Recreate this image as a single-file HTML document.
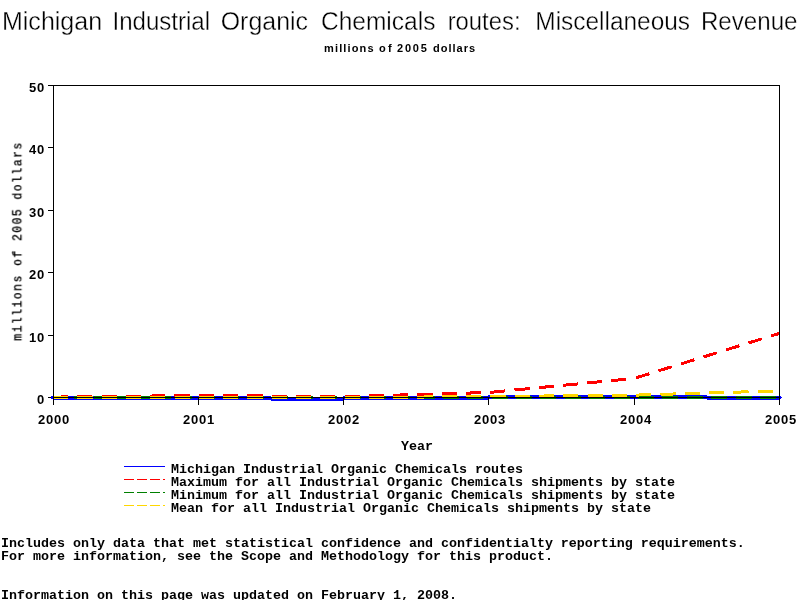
<!DOCTYPE html>
<html>
<head>
<meta charset="utf-8">
<title>Michigan Industrial Organic Chemicals routes: Miscellaneous Revenue</title>
<style>
html,body{margin:0;padding:0;background:#fff;}
body{width:800px;height:600px;overflow:hidden;position:relative;font-family:"Liberation Sans",sans-serif;color:#000;}
#chart{position:absolute;left:0;top:0;width:800px;height:600px;will-change:transform;}
.t{position:absolute;white-space:pre;line-height:1;will-change:transform;}
.sub{font-weight:bold;font-size:11px;letter-spacing:0.75px;}
.mono{font-family:"Liberation Mono",monospace;font-weight:bold;font-size:13.33px;}
.tick{font-family:"Liberation Sans",sans-serif;font-weight:bold;font-size:13px;letter-spacing:0.8px;}
</style>
</head>
<body>
<svg id="chart" width="800" height="600" viewBox="0 0 800 600">
  <!-- title -->
  <g id="title" font-family="Liberation Sans, sans-serif" font-size="25.8" fill="#000" stroke="#fff" stroke-width="0.35">
    <text transform="translate(1.96,29.5) scale(0.9709,1)">Michigan</text>
    <text transform="translate(112.46,29.5) scale(0.9334,1)">Industrial</text>
    <text transform="translate(220.74,29.5) scale(0.9661,1)">Organic</text>
    <text transform="translate(320.96,29.5) scale(0.9509,1)">Chemicals</text>
    <text transform="translate(447.63,29.5) scale(0.9251,1)">routes:</text>
    <text transform="translate(535.31,29.5) scale(0.9470,1)">Miscellaneous</text>
    <text transform="translate(700.93,29.5) scale(0.9360,1)">Revenue</text>
  </g>
  <!-- data lines -->
  <g id="blue" fill="#0000ff" shape-rendering="crispEdges">
    <rect x="51" y="396" width="2" height="3"/>
    <rect x="53" y="396" width="218" height="4"/>
    <rect x="271" y="397" width="72" height="4"/>
    <rect x="343" y="396" width="145" height="4"/>
    <rect x="488" y="395" width="219" height="4"/>
    <rect x="707" y="396" width="73" height="4"/>
    <rect x="780" y="396" width="1" height="3"/>
    <rect x="781" y="397" width="1" height="1"/>
  </g>
  <g fill="none" stroke-width="3" shape-rendering="crispEdges">
    <polyline id="green" stroke="#008000" stroke-dasharray="14.5 6.24" points="53,397.5 198.2,397.5"/>
    <polyline id="green2" stroke="#008000" stroke-dasharray="16 8.39" points="199.0,397.5 779,397.5"/>
    <polyline id="red" stroke="#ff0000" stroke-dasharray="15.2 9.1" points="53.0,397.1 198.2,395.5 343.4,396.6 488.6,392.5 633.8,378.5"/>
    <polyline id="red2" stroke="#ff0000" stroke-dasharray="13.87 9.69" stroke-dashoffset="-2.4" points="633.8,378.5 779,333.5"/>
    <polyline id="yellow" stroke="#ffd700" stroke-dasharray="15.2 9.1" points="53.0,397.5 198.2,397.5 343.4,397.6 488.6,396.53 633.8,395.17 779,390.87"/>
  </g>
  <!-- axes -->
  <g fill="none" stroke="#000" stroke-width="1" shape-rendering="crispEdges">
    <rect x="53.5" y="85.5" width="726" height="312"/>
    <!-- y ticks -->
    <path d="M48,85.5H54 M48,147.5H54 M48,210.5H54 M48,272.5H54 M48,335.5H54 M48,397.5H51"/>
    <!-- x ticks -->
    <path d="M53.5,397V405 M198.5,397V405 M343.5,397V405 M488.5,397V405 M634.5,397V405 M779.5,397V405"/>
  </g>
  <!-- legend samples -->
  <g fill="none" stroke-width="1" shape-rendering="crispEdges">
    <path stroke="#0000ff" d="M124,466.5H165"/>
    <path stroke="#ff0000" stroke-dasharray="10 3" d="M124,479.5H165"/>
    <path stroke="#008000" stroke-dasharray="10 3" d="M124,492.5H165"/>
    <path stroke="#ffd700" stroke-dasharray="10 3" d="M124,505.5H165"/>
  </g>
</svg>

<div class="t sub" id="sub1" style="letter-spacing:1.15px;left:324.3px;top:43px;">millions</div>
<div class="t sub" id="sub2" style="letter-spacing:2.2px;left:378.5px;top:43px;">of</div>
<div class="t sub" id="sub3" style="letter-spacing:1.8px;left:396.6px;top:43px;">2005</div>
<div class="t sub" id="sub4" style="letter-spacing:1.0px;left:432.8px;top:43px;">dollars</div>

<div class="t tick" id="y50" style="left:29px;top:81px;">50</div>
<div class="t tick" id="y40" style="left:29px;top:143px;">40</div>
<div class="t tick" id="y30" style="left:29px;top:206px;">30</div>
<div class="t tick" id="y20" style="left:29px;top:268px;">20</div>
<div class="t tick" id="y10" style="left:29px;top:331px;">10</div>
<div class="t tick" id="y0" style="left:37px;top:393px;">0</div>

<div class="t tick" id="x0" style="left:38px;top:413px;">2000</div>
<div class="t tick" id="x1" style="left:183px;top:413px;">2001</div>
<div class="t tick" id="x2" style="left:328px;top:413px;">2002</div>
<div class="t tick" id="x3" style="left:473.5px;top:413px;">2003</div>
<div class="t tick" id="x4" style="left:619.5px;top:413px;">2004</div>
<div class="t tick" id="x5" style="left:764.5px;top:413px;">2005</div>

<div class="t mono" id="ylab" style="left:18.3px;top:241px;font-weight:normal;letter-spacing:1.77px;-webkit-text-stroke:0.35px #000;transform:translate(-50%,-50%) rotate(-90deg) scale(0.85,1);">millions of 2005 dollars</div>

<div class="t mono" id="xlab" style="left:400.5px;top:440px;">Year</div>

<div class="t mono" id="l1" style="left:171px;top:463px;">Michigan Industrial Organic Chemicals routes</div>
<div class="t mono" id="l2" style="left:171px;top:476px;">Maximum for all Industrial Organic Chemicals shipments by state</div>
<div class="t mono" id="l3" style="left:171px;top:489px;">Minimum for all Industrial Organic Chemicals shipments by state</div>
<div class="t mono" id="l4" style="left:171px;top:502px;">Mean for all Industrial Organic Chemicals shipments by state</div>

<div class="t mono" id="f1" style="left:0.7px;top:537px;">Includes only data that met statistical confidence and confidentialty reporting requirements.</div>
<div class="t mono" id="f2" style="left:0.7px;top:550px;">For more information, see the Scope and Methodology for this product.</div>
<div class="t mono" id="f3" style="left:0.7px;top:589px;">Information on this page was updated on February 1, 2008.</div>
</body>
</html>
